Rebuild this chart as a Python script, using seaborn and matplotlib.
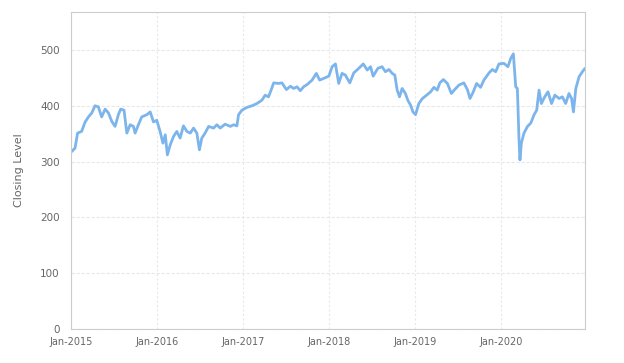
import matplotlib
matplotlib.use("Agg")
import matplotlib.pyplot as plt
import matplotlib.dates as mdates
import seaborn as sns
import pandas as pd

dates = [
    "2015-01-01", "2015-01-04", "2015-01-18", "2015-01-29", "2015-02-15", "2015-03-02", "2015-03-16",
    "2015-03-30", "2015-04-13", "2015-04-27", "2015-05-11", "2015-05-26", "2015-06-09",
    "2015-06-23", "2015-07-07", "2015-07-21", "2015-07-31", "2015-08-14", "2015-08-26",
    "2015-09-09", "2015-09-23", "2015-09-30", "2015-10-14", "2015-10-28", "2015-11-19",
    "2015-12-03", "2015-12-17", "2015-12-31", "2016-01-14", "2016-01-26", "2016-02-05",
    "2016-02-14", "2016-02-26", "2016-03-11", "2016-03-25", "2016-04-08", "2016-04-22",
    "2016-05-07", "2016-05-21", "2016-06-04", "2016-06-18", "2016-06-29", "2016-07-09",
    "2016-07-23", "2016-08-07", "2016-08-28", "2016-09-11", "2016-09-25", "2016-10-16",
    "2016-11-07", "2016-11-21", "2016-12-05", "2016-12-12", "2016-12-26", "2017-01-16",
    "2017-02-07", "2017-02-28", "2017-03-21", "2017-04-04", "2017-04-18", "2017-04-29",
    "2017-05-10", "2017-05-31", "2017-06-14", "2017-07-03", "2017-07-20", "2017-08-03",
    "2017-08-17", "2017-08-31", "2017-09-14", "2017-09-29", "2017-10-20", "2017-11-07",
    "2017-11-21", "2017-12-30", "2018-01-13", "2018-01-27", "2018-02-10", "2018-02-24",
    "2018-03-10", "2018-03-29", "2018-04-15", "2018-05-06", "2018-05-25", "2018-06-11",
    "2018-06-25", "2018-07-06", "2018-07-26", "2018-08-13", "2018-08-27", "2018-09-11",
    "2018-09-25", "2018-10-06", "2018-10-16", "2018-10-26", "2018-11-06", "2018-11-20",
    "2018-11-30", "2018-12-12", "2018-12-22", "2019-01-02", "2019-01-16", "2019-01-31",
    "2019-02-18", "2019-03-07", "2019-03-21", "2019-04-04", "2019-04-15", "2019-04-30",
    "2019-05-17", "2019-06-03", "2019-06-17", "2019-07-05", "2019-07-26", "2019-08-10",
    "2019-08-21", "2019-09-04", "2019-09-18", "2019-10-05", "2019-10-19", "2019-11-10",
    "2019-11-24", "2019-12-08", "2019-12-22", "2020-01-12", "2020-01-29", "2020-02-10",
    "2020-02-21", "2020-03-02", "2020-03-09", "2020-03-16", "2020-03-20", "2020-03-26",
    "2020-04-06", "2020-04-21", "2020-05-05", "2020-05-19", "2020-05-30", "2020-06-09",
    "2020-06-19", "2020-07-03", "2020-07-17", "2020-08-01", "2020-08-15", "2020-09-02",
    "2020-09-16", "2020-09-30", "2020-10-14", "2020-10-25", "2020-11-02", "2020-11-12",
    "2020-11-26", "2020-12-10", "2020-12-21",
]
closing = [
    322, 318, 324, 351, 354, 371, 380,
    387, 400, 398, 380, 394, 387,
    372, 363, 384, 394, 392, 351,
    366, 363, 351, 366, 380, 384,
    389, 371, 374, 354, 333, 348,
    312, 330, 345, 354, 342, 364,
    354, 351, 360, 351, 321, 342,
    351, 363, 360, 366, 360, 367,
    363, 366, 364, 384, 392, 397,
    400, 404, 410, 419, 416, 428,
    441, 440, 441, 429, 435, 431,
    434, 427, 434, 438, 446, 458,
    446, 453, 470, 475, 440, 458,
    455, 441, 459, 467, 475, 464,
    470, 453, 467, 470, 461, 465,
    458, 455, 428, 416, 431, 422,
    410, 401, 389, 384, 404, 413,
    419, 425, 433, 428, 441, 447,
    440, 422, 429, 437, 441, 429,
    413, 425, 440, 433, 446, 459,
    465, 461, 475, 476, 470, 485,
    493, 434, 431, 339, 303, 333,
    351, 363, 369, 384, 392, 428,
    404, 416, 425, 404, 419, 413,
    416, 404, 422, 413, 389, 431,
    452, 461, 467,
]
year_ticks = ["2015-01-01", "2016-01-01", "2017-01-01", "2018-01-01", "2019-01-01", "2020-01-01"]
y_ticks = [0, 100, 200, 300, 400, 500]

df = pd.DataFrame({"Date": pd.to_datetime(dates), "Close": closing})

sns.set_style("white")
plt.rcParams["font.family"] = ["DejaVu Sans"]

fig = plt.figure(figsize=(6.24, 3.63), dpi=100)
ax = fig.add_axes([71 / 624, 34 / 363, 514 / 624, 317 / 363])

sns.lineplot(data=df, x="Date", y="Close", ax=ax, color="#7cb5ec", linewidth=2.0)

ax.set_xlim(pd.Timestamp("2015-01-01"), pd.Timestamp("2020-12-21"))
ax.set_ylim(0, 568)
ax.set_yticks(y_ticks)
ax.set_xticks(pd.to_datetime(year_ticks))
ax.xaxis.set_major_formatter(mdates.DateFormatter("%b-%Y"))

ax.grid(True, axis="y", color="#e8e8e8", linestyle=(0, (3, 1.5)), linewidth=0.8)
ax.grid(True, axis="x", color="#e8e8e8", linestyle=(0, (2, 2)), linewidth=0.8)
ax.set_axisbelow(True)
for s in ax.spines.values():
    s.set_visible(True)
    s.set_color("#cccccc")
    s.set_linewidth(0.8)

ax.tick_params(axis="x", colors="#666666", labelsize=7, length=3, color="#cccccc", pad=3)
ax.tick_params(axis="y", colors="#666666", labelsize=7.5, length=0, pad=8)
ax.set_xlabel("")
ax.set_ylabel("Closing Level", color="#666666", fontsize=8, labelpad=12)

fig.savefig("out.png", dpi=100)
